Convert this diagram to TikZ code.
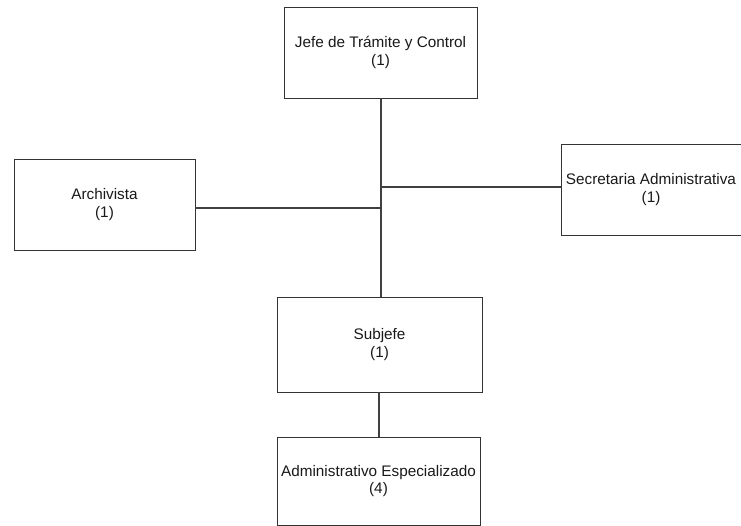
\documentclass[tikz,border=0pt]{standalone}
\usepackage{fontspec}
\setmainfont{Liberation Sans}
\usetikzlibrary{calc}
\begin{document}
\begin{tikzpicture}[x=1pt,y=-1pt,
  post/.style={draw=black!80, line width=0.8pt, align=center, inner sep=0pt,
    font=\fontsize{15.3}{17.5}\selectfont, text=black!90},
  link/.style={draw=black!75, line width=2pt}]
  \useasboundingbox (0,0) rectangle (741,526);
  % the five posts of the chart
  \node[post, minimum width=193pt, minimum height=91pt] (jefe) at (380.5,52.5)
    {Jefe de Trámite y Control\\(1)};
  \node[post, minimum width=181pt, minimum height=91pt] (arch) at (104.5,204.5)
    {Archivista\\(1)};
  \node[post, minimum width=180pt, minimum height=91pt] (secr) at (651,189.5)
    {Secretaria Administrativa\\(1)};
  \node[post, minimum width=205pt, minimum height=95pt] (subj) at (379.5,344.5)
    {Subjefe\\(1)};
  \node[post, minimum width=203pt, minimum height=88pt] (admi) at (378.5,481)
    {Administrativo Especializado\\(4)};
  % reporting lines
  \draw[link] (jefe.south) -- (jefe.south |- subj.north);
  \coordinate (aj) at ($(arch.east)+(0,3.5)$);
  \draw[link] (aj) -- (aj -| jefe.south);
  \coordinate (sj) at ($(secr.west)+(0,-2.5)$);
  \draw[link] (sj) -- (sj -| jefe.south);
  \draw[link] (admi.north |- subj.south) -- (admi.north);
\end{tikzpicture}
\end{document}
